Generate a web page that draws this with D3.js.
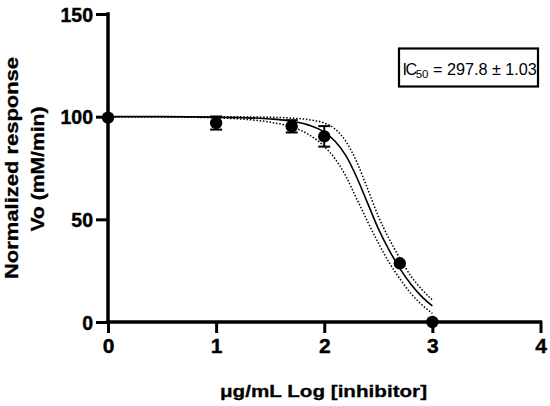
<!DOCTYPE html>
<html>
<head>
<meta charset="utf-8">
<script src="https://cdn.jsdelivr.net/npm/d3@7"></script>
<style>
  html, body { margin: 0; padding: 0; background: #fff; }
  svg { display: block; }
  text { font-family: "Liberation Sans", Arial, Helvetica, sans-serif; }
</style>
</head>
<body>
<svg id="chart" width="550" height="406"></svg>
<script>
// ---- data ----
const pointX   = [0, 1, 1.699, 2, 2.699, 3];
const pointY   = [99.5, 96.9, 95.3, 90.4, 28.6, 0];
const pointErr = [0, 3.2, 3, 5, 0, 0];

const curveX   = [0, 0.5, 1, 1.25, 1.5, 1.7, 1.85, 2, 2.1, 2.2, 2.3, 2.4, 2.5, 2.6, 2.7, 2.8, 2.9, 3];
const fitY     = [100, 100, 99.8, 99.5, 98.9, 97.8, 96, 92.5, 88, 81, 70.5, 58, 45.5, 35, 26, 18.5, 12.5, 7.8];
const upperY   = [100, 100, 100, 99.9, 99.7, 99.3, 98.6, 96.9, 94, 88, 78, 65, 51.5, 40.5, 31, 22.5, 16, 10.7];
const lowerY   = [100, 99.9, 99.4, 98.8, 97.3, 95, 91.5, 85.5, 79.5, 71, 60, 49, 38.5, 29, 21, 14, 8.5, 4.2];

const xTicks = [0, 1, 2, 3, 4];
const yTicks = [0, 50, 100, 150];
const xTitle = "\u03bcg/mL Log [inhibitor]";
const yTitle1 = "Normalized response";
const yTitle2 = "Vo (mM/min)";
const icLabel = "IC";
const icSub = "50";
const icValue = " = 297.8 \u00b1 1.03";

// ---- drawing ----
const svg = d3.select("#chart");
const x = d3.scaleLinear().domain([0, 4]).range([108, 540.5]);
const y = d3.scaleLinear().domain([0, 150]).range([322, 14]);

// axes
const xAxis = d3.axisBottom(x).tickValues(xTicks).tickSize(11).tickPadding(4).tickFormat(d3.format("d"));
const yAxis = d3.axisLeft(y).tickValues(yTicks).tickSize(12).tickPadding(3).tickFormat(d3.format("d"));

const gx = svg.append("g").attr("transform", `translate(0,${y(0)})`).call(xAxis);
const gy = svg.append("g").attr("transform", `translate(${x(0)},0)`).call(yAxis);

[gx, gy].forEach(g => {
  g.attr("font-family", null).attr("font-size", null);
  g.select(".domain").attr("stroke", "#000").attr("stroke-width", 3.5).attr("stroke-linecap", "square");
  g.selectAll(".tick line").attr("stroke", "#000").attr("stroke-width", 3);
  g.selectAll(".tick text").attr("fill", "#000").attr("font-weight", "bold")
    .attr("stroke", "#000").attr("stroke-width", 0.4);
});
gx.select(".domain").attr("d", `M${x(0)},0H${x(4)}`);
gy.select(".domain").attr("d", `M0,${y(0)}V${y(150)}`);
gx.selectAll(".tick text").attr("font-size", 21).attr("dy", "0.74em");
gy.selectAll(".tick text").attr("font-size", 19.5).attr("dy", "0.36em");

// curves
const line = (ys) => d3.line()
  .x((d, i) => x(curveX[i]))
  .y((d, i) => y(ys[i]))
  .curve(d3.curveMonotoneX)(curveX);

svg.append("path").attr("d", line(upperY)).attr("fill", "none")
  .attr("stroke", "#000").attr("stroke-width", 1.5).attr("stroke-dasharray", "1.5,1.8");
svg.append("path").attr("d", line(lowerY)).attr("fill", "none")
  .attr("stroke", "#000").attr("stroke-width", 1.5).attr("stroke-dasharray", "1.5,1.8");
svg.append("path").attr("d", line(fitY)).attr("fill", "none")
  .attr("stroke", "#000").attr("stroke-width", 1.6);

// error bars
const pts = pointX.map((v, i) => ({x: v, y: pointY[i], e: pointErr[i]}));
const eb = svg.append("g").selectAll("g").data(pts.filter(d => d.e > 0)).join("g");
eb.append("line")
  .attr("x1", d => x(d.x)).attr("x2", d => x(d.x))
  .attr("y1", d => y(d.y - d.e)).attr("y2", d => y(d.y + d.e))
  .attr("stroke", "#000").attr("stroke-width", 2);
eb.append("line")
  .attr("x1", d => x(d.x) - 6).attr("x2", d => x(d.x) + 6)
  .attr("y1", d => y(d.y - d.e)).attr("y2", d => y(d.y - d.e))
  .attr("stroke", "#000").attr("stroke-width", 2);
eb.append("line")
  .attr("x1", d => x(d.x) - 6).attr("x2", d => x(d.x) + 6)
  .attr("y1", d => y(d.y + d.e)).attr("y2", d => y(d.y + d.e))
  .attr("stroke", "#000").attr("stroke-width", 2);

// points
svg.append("g").selectAll("circle").data(pts).join("circle")
  .attr("cx", d => x(d.x)).attr("cy", d => y(d.y)).attr("r", 6.2).attr("fill", "#000");

// axis titles
svg.append("text")
  .attr("x", 323.5).attr("y", 397)
  .attr("text-anchor", "middle")
  .attr("font-size", 17).attr("font-weight", "bold")
  .attr("stroke", "#000").attr("stroke-width", 0.3)
  .attr("textLength", 207).attr("lengthAdjust", "spacingAndGlyphs")
  .text(xTitle);

svg.append("text")
  .attr("transform", `translate(17.5,${(y(0) + y(150)) / 2}) rotate(-90)`)
  .attr("text-anchor", "middle")
  .attr("font-size", 18).attr("font-weight", "bold")
  .attr("stroke", "#000").attr("stroke-width", 0.3)
  .attr("textLength", 222).attr("lengthAdjust", "spacingAndGlyphs")
  .text(yTitle1);
svg.append("text")
  .attr("transform", `translate(43.5,${(y(0) + y(150)) / 2 + 1}) rotate(-90)`)
  .attr("text-anchor", "middle")
  .attr("font-size", 18).attr("font-weight", "bold")
  .attr("stroke", "#000").attr("stroke-width", 0.3)
  .attr("textLength", 125).attr("lengthAdjust", "spacingAndGlyphs")
  .text(yTitle2);

// IC50 box
svg.append("rect")
  .attr("x", 399).attr("y", 48.5).attr("width", 139).attr("height", 38)
  .attr("fill", "#fff").attr("stroke", "#000").attr("stroke-width", 2.2);
const t = svg.append("text").attr("x", 402.5).attr("y", 75).attr("font-size", 16.2).attr("fill", "#000");
t.append("tspan").attr("letter-spacing", "-1.5").text(icLabel);
t.append("tspan").attr("font-size", 11.5).attr("dy", 3).text(icSub);
t.append("tspan").attr("dy", -3).text(icValue);
</script>
</body>
</html>
